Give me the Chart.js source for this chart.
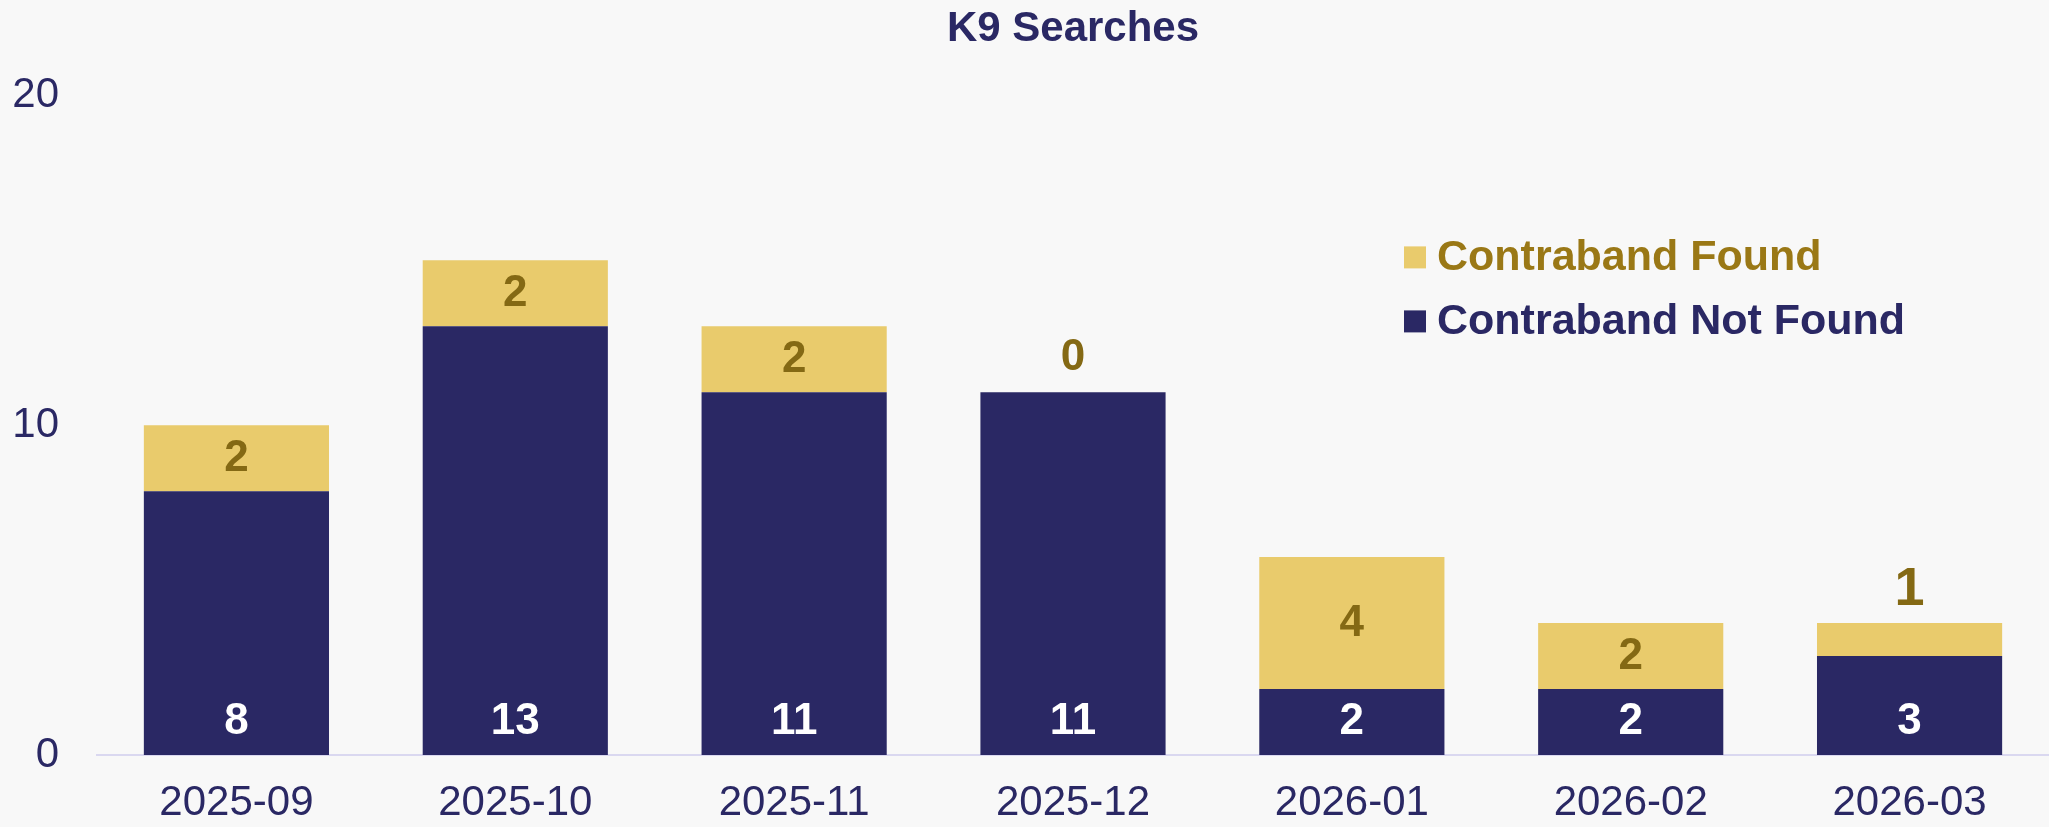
<!DOCTYPE html>
<html lang="en">
<head>
    <meta charset="UTF-8" />
    <title>K9 Searches</title>
    <script src="https://cdn.jsdelivr.net/npm/chart.js"></script>
    <style>
        body {
            margin: 0;
            background: #f8f8f8;
        }
        #wrap {
            width: 2049px;
            height: 827px;
            position: relative;
        }
    </style>
</head>
<body>

<div id="wrap">
    <canvas id="k9Chart"></canvas>
</div>

<script>
    // chart data
    const months = ['2025-09', '2025-10', '2025-11', '2025-12', '2026-01', '2026-02', '2026-03'];
    const notFound = [8, 13, 11, 11, 2, 2, 3];
    const found = [2, 2, 2, 0, 4, 2, 1];
    const yTicks = [0, 10, 20];

    const NAVY = '#2a2864';
    const GOLD = '#e9cb6c';
    const GOLD_TEXT = '#846914';
    const LEGEND_GOLD = '#9a7816';
    const FONT = '"Liberation Sans", Arial, sans-serif';

    // value labels on each bar segment
    const valueLabels = {
        id: 'valueLabels',
        afterDatasetsDraw(chart) {
            const ctx = chart.ctx;
            ctx.save();
            ctx.textAlign = 'center';
            ctx.textBaseline = 'middle';

            // not found: white, near the bottom of the bar
            chart.getDatasetMeta(0).data.forEach((bar, i) => {
                const v = chart.data.datasets[0].data[i];
                if (!v) return;
                ctx.font = 'bold 44px ' + FONT;
                ctx.fillStyle = '#ffffff';
                ctx.fillText(v, bar.x, bar.base - 33);
            });

            // found: centered in segment, or above the bar when it is too thin
            chart.getDatasetMeta(1).data.forEach((bar, i) => {
                const v = chart.data.datasets[1].data[i];
                const h = bar.base - bar.y;
                ctx.fillStyle = GOLD_TEXT;
                if (h >= 50) {
                    ctx.font = 'bold 44px ' + FONT;
                    ctx.fillText(v, bar.x, bar.y + h / 2 + 1);
                } else {
                    ctx.font = (v > 0 ? 'bold 54px ' : 'bold 44px ') + FONT;
                    ctx.fillText(v, bar.x, bar.y - (v > 0 ? 33 : 34));
                }
            });
            ctx.restore();
        }
    };

    // legend drawn inside the plot, top right
    const innerLegend = {
        id: 'innerLegend',
        afterDraw(chart) {
            const ctx = chart.ctx;
            const area = chart.chartArea;
            const items = [
                { ds: chart.data.datasets[1], text: LEGEND_GOLD },
                { ds: chart.data.datasets[0], text: NAVY }
            ];
            const x = area.left + 1307;
            let y = area.top + 151;
            ctx.save();
            ctx.font = 'bold 43px ' + FONT;
            ctx.textBaseline = 'middle';
            ctx.textAlign = 'left';
            items.forEach(item => {
                ctx.fillStyle = item.ds.backgroundColor;
                ctx.fillRect(x, y, 22, 22);
                ctx.fillStyle = item.text;
                ctx.fillText(item.ds.label, x + 33, y + 12);
                y += 64;
            });
            ctx.restore();
        }
    };

    const ctx = document.getElementById('k9Chart').getContext('2d');

    new Chart(ctx, {
        type: 'bar',
        data: {
            labels: months,
            datasets: [
                {
                    label: 'Contraband Not Found',
                    data: notFound,
                    backgroundColor: NAVY,
                    barPercentage: 0.664,
                    categoryPercentage: 1
                },
                {
                    label: 'Contraband Found',
                    data: found,
                    backgroundColor: GOLD,
                    barPercentage: 0.664,
                    categoryPercentage: 1
                }
            ]
        },
        options: {
            responsive: true,
            maintainAspectRatio: false,
            animation: false,
            layout: {
                padding: { top: 0, left: 12, right: 0, bottom: 0 }
            },
            plugins: {
                legend: { display: false },
                tooltip: { enabled: false },
                title: {
                    display: true,
                    text: 'K9 Searches',
                    fullSize: false,
                    color: NAVY,
                    font: { family: FONT, size: 42, weight: 'bold' },
                    padding: { top: 4, bottom: 41 }
                }
            },
            scales: {
                x: {
                    stacked: true,
                    grid: { display: false, drawTicks: false },
                    border: { display: true, color: '#dad8f0', width: 2 },
                    ticks: {
                        color: NAVY,
                        padding: 23,
                        font: { family: FONT, size: 42 }
                    },
                    afterFit: axis => { axis.height = 72; }
                },
                y: {
                    stacked: true,
                    min: 0,
                    max: 20,
                    afterBuildTicks: axis => {
                        axis.ticks = yTicks.map(v => ({ value: v }));
                    },
                    grid: { display: false, drawTicks: false },
                    border: { display: false },
                    ticks: {
                        color: NAVY,
                        padding: 38,
                        font: { family: FONT, size: 42 }
                    },
                    afterFit: axis => { axis.width = 85; }
                }
            }
        },
        plugins: [valueLabels, innerLegend]
    });
</script>

</body>
</html>
